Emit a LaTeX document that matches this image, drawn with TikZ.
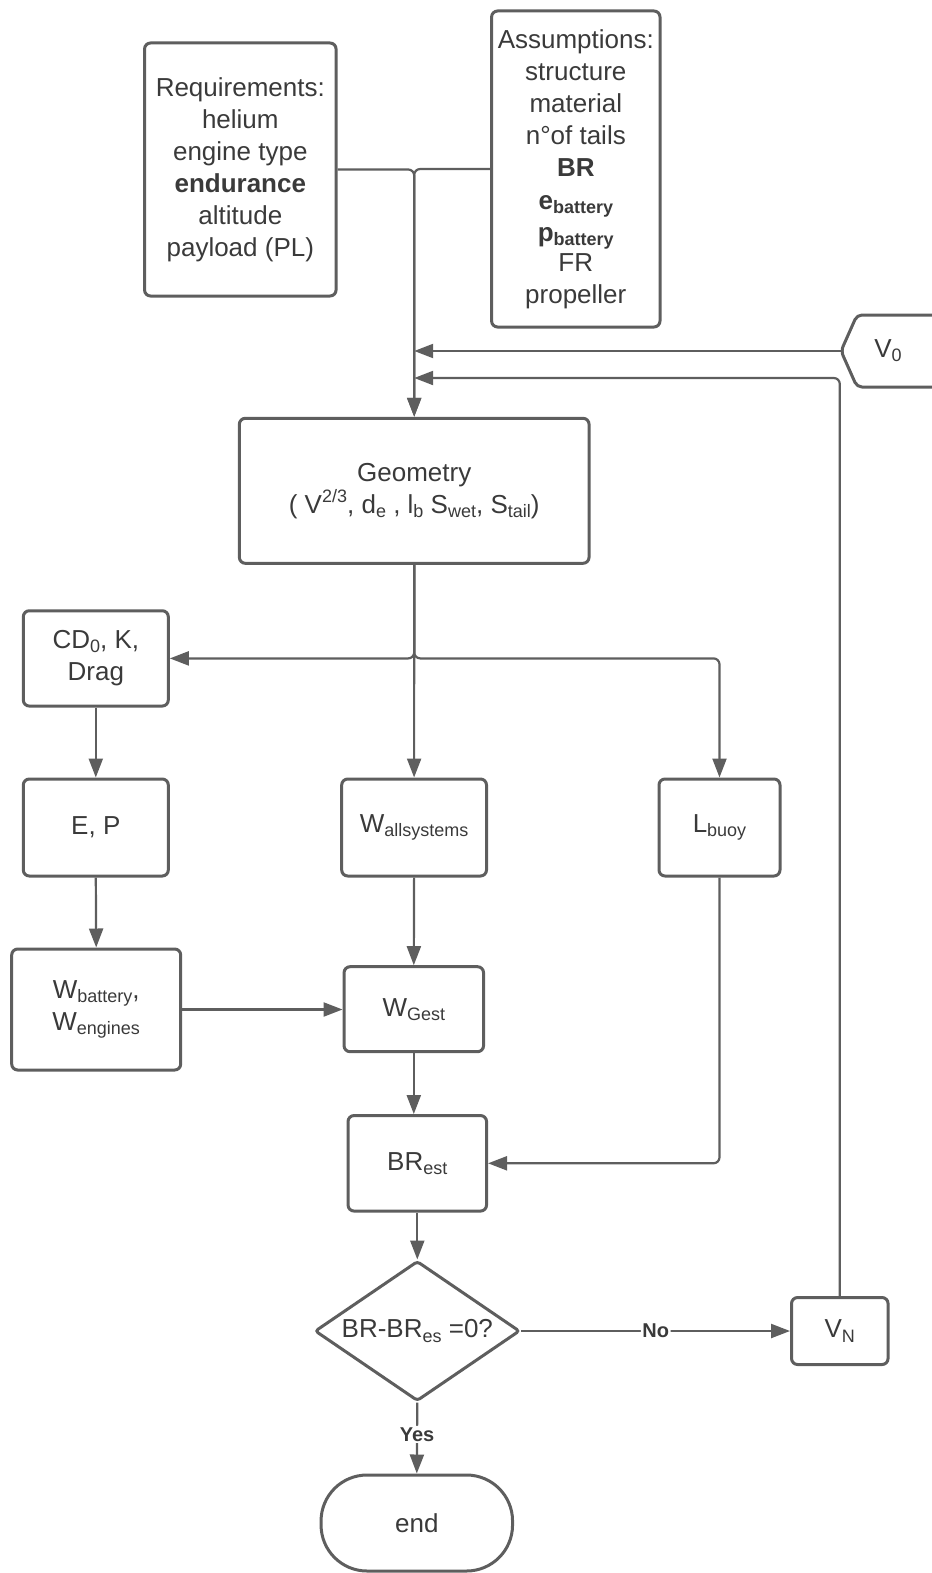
\documentclass[tikz,border=0pt]{standalone}
\usepackage{fontspec}
\setmainfont{Liberation Sans}
\usetikzlibrary{arrows.meta,shapes.geometric}
\definecolor{edge}{HTML}{5E5E5E}
\definecolor{ink}{HTML}{3A3A3A}
% small lowered / raised text for indices
\newcommand\subtxt[1]{\raisebox{-0.3ex}{\fontsize{18}{18}\selectfont #1}}
\newcommand\suptxt[1]{\raisebox{0.75ex}{\fontsize{18}{18}\selectfont #1}}

\begin{document}
\begin{tikzpicture}[x=1pt,y=-1pt,
  box/.style={draw=edge, line width=3pt, rounded corners=6pt, text=ink,
    align=center, inner sep=0pt, font=\fontsize{26}{32}\selectfont},
  link/.style={draw=edge, line width=2.2pt, rounded corners=6pt},
  arr/.style={link, -{Triangle[length=19pt,width=14pt]}},
  tag/.style={fill=white, text=ink, inner sep=1.5pt,
    font=\fontsize{20}{20}\selectfont\bfseries}]

\useasboundingbox (0,0) rectangle (931,1573);

% inputs
\node[box, minimum width=191.5pt, minimum height=253pt] (req) at (240.3,169.5)
  {Requirements:\\helium\\engine type\\\textbf{endurance}\\altitude\\payload (PL)};
\node[box, minimum width=168.4pt, minimum height=316pt] (assum) at (575.8,169)
  {Assumptions:\\structure\\material\\n°of tails\\\textbf{BR}\\[1pt]%
   \textbf{e\subtxt{battery}}\\\textbf{p\subtxt{battery}}\\[-2pt]FR\\propeller};

% initial speed terminal
\draw[draw=edge, line width=3pt, rounded corners=5pt]
  (841,351) -- (857,315) -- (940,315) -- (956,351) -- (940,387) -- (857,387) -- cycle;
\node[text=ink, font=\fontsize{26}{32}\selectfont] (v0) at (888,351) {V\subtxt{0}};
\coordinate (v0tip) at (841,351);

% process boxes
\node[box, minimum width=349.7pt, minimum height=145pt] (geo) at (414.2,490.8)
  {Geometry\\( V\suptxt{2/3}, d\subtxt{e} , l\subtxt{b} S\subtxt{wet}, S\subtxt{tail})};
\node[box, minimum width=145pt, minimum height=95.3pt] (cd) at (95.8,658.4)
  {CD\subtxt{0}, K,\\Drag};
\node[box, minimum width=145pt, minimum height=97pt] (ep) at (95.8,827.5)
  {\raisebox{4pt}{E, P}};
\node[box, minimum width=169pt, minimum height=121pt] (wbat) at (96.2,1009.5)
  {W\subtxt{battery},\\W\subtxt{engines}};
\node[box, minimum width=144.8pt, minimum height=97pt] (wall) at (414.1,827.5)
  {W\subtxt{allsystems}};
\node[box, minimum width=121pt, minimum height=97pt] (lbuoy) at (719.5,827.5)
  {L\subtxt{buoy}};
\node[box, minimum width=139.5pt, minimum height=85pt] (wgest) at (413.8,1009.2)
  {W\subtxt{Gest}};
\node[box, minimum width=138.5pt, minimum height=95.5pt] (brest) at (417.3,1163.3)
  {BR\subtxt{est}};
\node[box, diamond, aspect=1.46, rounded corners=3pt, minimum width=205pt,
  minimum height=140pt] (dec) at (417.3,1331) {BR-BR\subtxt{es} =0?};
\node[box, minimum width=96.5pt, minimum height=67pt] (vn) at (839.8,1331)
  {V\subtxt{N}};
\node[box, rounded corners=46pt, minimum width=191.5pt, minimum height=96pt]
  (endn) at (416.8,1523) {end};

\coordinate (loopin) at (414.2,378);

% connectors
\draw[arr] (req.east) -- (req.east -| geo.north) -- (geo.north);
\draw[arr] (assum.west) -- (assum.west -| geo.north) -- (geo.north);
\draw[arr] (v0tip) -- (v0tip -| geo.north);
\draw[arr] (vn.north) |- (loopin);

\draw[arr] (geo.south) -- (wall.north);
\draw[arr] (geo.south) -- (geo.south |- cd.east) -- (cd.east);
\draw[arr] (geo.south) -- (geo.south |- cd.east) -- (lbuoy.north |- cd.east) -- (lbuoy.north);

\draw[arr] (cd.south) -- (ep.north);
\draw[arr] (ep.south) -- (wbat.north);
\draw[arr] (wbat.east) -- (wbat.east -| wgest.west);
\draw[arr] (wall.south) -- (wgest.north);
\draw[arr] (wgest.south) -- (wgest.south |- brest.north);
\draw[arr] (lbuoy.south) |- (brest.east);
\draw[arr] (brest.south) -- (dec.north);

\draw[arr] (dec.east) -- node[tag] {No} (vn.west);
\draw[arr] (dec.south) -- node[tag, pos=0.45] {Yes} (endn.north);
\end{tikzpicture}
\end{document}
